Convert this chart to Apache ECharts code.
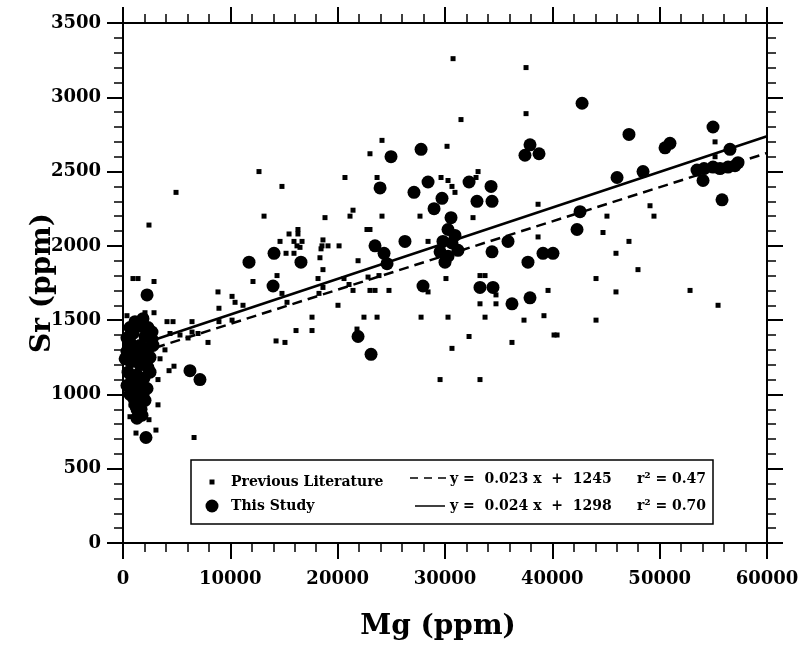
<!DOCTYPE html>
<html>
<head>
<meta charset="utf-8">
<script src="https://cdn.jsdelivr.net/npm/echarts@6.0.0/dist/echarts.min.js"></script>
<style>
html,body{margin:0;padding:0;background:#fff;}
#chart{width:800px;height:645px;}
</style>
</head>
<body>
<div id="chart"></div>
<script>
// ---- Data (Mg ppm, Sr ppm) ----
const prevLitMg = [30750,37550,37550,31490,24130,23010,30190,12670,14810,20680,23670,29630,30280,33080,32890,30650,30930,38670,21430,21150,24130,27670,32610,4940,2420,13140,18820,15470,16300,16300,14630,15930,16680,16210,16490,15190,15930,18630,18540,19100,20130,18450,18350,18630,930,1400,2890,14350,12110,8850,10160,10440,11180,14810,15280,18170,18630,18260,20590,20030,21060,8940,8940,6430,4100,4660,2890,370,2050,17610,16120,17610,14260,15090,7920,3910,6430,6990,4380,6060,10160,3450,470,560,750,650,1210,2420,3070,3260,3260,4290,4750,6620,5310,38670,44070,44070,39600,39220,37360,40160,40440,36240,33260,34750,33730,33260,33730,34750,32240,30650,29540,33260,30090,30280,27770,28420,24780,23670,22450,21800,21430,23010,23480,21900,22830,23850,22730,23010,28420,55160,55160,49100,49470,45090,44720,47140,45930,47980,45930,52830,55440,280];
const prevLitSr = [3260,3200,2890,2850,2710,2620,2670,2500,2400,2460,2460,2460,2440,2500,2460,2400,2360,2280,2240,2200,2200,2200,2190,2360,2140,2200,2190,2080,2110,2080,2030,2030,2030,2000,1990,1950,1950,2040,2000,2000,2000,1980,1920,1840,1780,1780,1760,1800,1760,1690,1660,1620,1600,1680,1620,1780,1720,1680,1780,1600,1740,1580,1490,1490,1490,1490,1550,1530,1550,1520,1430,1430,1360,1350,1350,1300,1420,1410,1410,1380,1500,1240,1100,1010,930,850,740,830,760,1100,930,1160,1190,710,1400,2060,1780,1500,1700,1530,1500,1400,1400,1350,1610,1610,1520,1800,1800,1670,1390,1310,1100,1100,1780,1520,1520,1690,1700,1520,1520,1440,1700,1700,1700,1900,1790,1800,2110,2110,2030,2700,2600,2270,2200,2200,2090,2030,1950,1840,1690,1700,1600,1330];

const studyMg = [2240,2140,6240,7170,13980,11740,14070,16580,21900,23110,24970,27770,23950,27110,28420,29720,28980,32240,34290,32980,34380,30560,26270,23480,24320,24600,30280,29810,30650,31210,29540,30280,34380,35870,37730,39130,40060,42580,42300,27950,33260,34470,36240,37920,37920,37450,38760,42770,47140,54970,50500,50960,46030,48450,55810,53480,54040,54130,54970,55620,56370,57020,57300,56550,30930,30000,1580,2330,930,2050,2700,650,1580,2330,370,1210,2050,750,1580,2330,470,1300,1960,840,1680,1210,1860,1020,1580,1300,1680,2520,560,1020,1120,2700,370,2800,1120,200,2520,370,2240,650,2050,1120,1770,1300,650,1860];
const studySr = [1670,710,1160,1100,1730,1890,1950,1890,1390,1270,2600,2650,2390,2360,2430,2320,2250,2430,2400,2300,2300,2190,2030,2000,1950,1880,2110,2030,2020,1970,1960,1930,1960,2030,1890,1950,1950,2230,2110,1730,1720,1720,1610,1650,2680,2610,2620,2960,2750,2800,2660,2690,2460,2500,2310,2510,2440,2520,2530,2520,2530,2540,2560,2650,2070,1890,1460,1450,1410,1390,1370,1350,1330,1310,1290,1270,1260,1220,1200,1180,1150,1130,1110,1080,1060,1020,1000,970,940,900,900,1250,1230,1040,1490,1420,1380,1330,1310,1240,1150,1060,1040,1000,960,930,860,840,1450,1510];

// regression fits (from legend)
const fitPrev = {slope: 0.023, intercept: 1245, r2: '0.47'};
const fitStudy = {slope: 0.024, intercept: 1298, r2: '0.70'};
const fitRange = [3000, 60000];

const xTicks = {min: 0, max: 60000, interval: 10000};
const yTicks = {min: 0, max: 3500, interval: 500};

// ---- Chart ----
const chart = echarts.init(document.getElementById('chart'), null, {renderer: 'canvas'});
const zip = (a, b) => a.map((v, i) => [v, b[i]]);
const fitLine = f => fitRange.map(x => [x, f.slope * x + f.intercept]);

const tickFont = {fontFamily: 'DejaVu Serif', fontWeight: 'bold', fontSize: 18, color: '#000', formatter: v => String(v)};
const titleFont = {fontFamily: 'DejaVu Serif', fontWeight: 'bold', fontSize: 28, color: '#000'};
const axisLine = {show: true, onZero: false, lineStyle: {color: '#000', width: 2}};
const axisTick = {show: true, inside: false, length: 16, lineStyle: {color: '#000', width: 2}};
const minorTick = {show: true, splitNumber: 5, length: 9, lineStyle: {color: '#000', width: 1.5}};

const legendFont = {fontFamily: 'DejaVu Serif', fontWeight: 'bold', fontSize: 14, fill: '#000', verticalAlign: 'middle', align: 'left'};

chart.setOption({
  animation: false,
  backgroundColor: '#fff',
  grid: {left: 123, right: 33, top: 23, bottom: 102, containLabel: false, outerBoundsMode: 'none'},
  xAxis: [
    {type: 'value', position: 'bottom', min: xTicks.min, max: xTicks.max, interval: xTicks.interval,
     axisLine, axisTick, minorTick, splitLine: {show: false},
     axisLabel: Object.assign({margin: 27}, tickFont),
     name: 'Mg (ppm)', nameLocation: 'middle', nameGap: 70, nameMoveOverlap: false,
     nameTextStyle: Object.assign({padding: [0, 14, 0, 0]}, titleFont)},
    {type: 'value', position: 'top', min: xTicks.min, max: xTicks.max, interval: xTicks.interval,
     axisLine, axisTick, minorTick, splitLine: {show: false}, axisLabel: {show: false}}
  ],
  yAxis: [
    {type: 'value', position: 'left', min: yTicks.min, max: yTicks.max, interval: yTicks.interval,
     axisLine, axisTick, minorTick, splitLine: {show: false},
     axisLabel: Object.assign({margin: 22}, tickFont),
     name: 'Sr (ppm)', nameLocation: 'middle', nameGap: 66, nameMoveOverlap: false, nameTextStyle: titleFont},
    {type: 'value', position: 'right', min: yTicks.min, max: yTicks.max, interval: yTicks.interval,
     axisLine, axisTick, minorTick, splitLine: {show: false}, axisLabel: {show: false}}
  ],
  series: [
    {name: 'Previous Literature', type: 'scatter', symbol: 'rect', symbolSize: 5,
     itemStyle: {color: '#000', opacity: 1}, data: zip(prevLitMg, prevLitSr), z: 2},
    {name: 'This Study', type: 'scatter', symbol: 'circle', symbolSize: 13,
     itemStyle: {color: '#000', opacity: 1}, data: zip(studyMg, studySr), z: 3},
    {name: 'fit prev', type: 'line', data: fitLine(fitPrev), symbol: 'none', silent: true,
     lineStyle: {color: '#000', width: 2.5, type: [10, 6]}, z: 4},
    {name: 'fit study', type: 'line', data: fitLine(fitStudy), symbol: 'none', silent: true,
     lineStyle: {color: '#000', width: 2.5, type: 'solid'}, z: 4}
  ],
  graphic: [
    {type: 'rect', z: 100, shape: {x: 191, y: 460, width: 522, height: 64},
     style: {fill: '#fff', stroke: '#000', lineWidth: 1.5}},
    {type: 'rect', z: 101, shape: {x: 209.5, y: 479.5, width: 5, height: 5}, style: {fill: '#000'}},
    {type: 'circle', z: 101, shape: {cx: 212, cy: 506, r: 6.5}, style: {fill: '#000'}},
    {type: 'text', z: 101, x: 231, y: 482, style: Object.assign({text: 'Previous Literature'}, legendFont)},
    {type: 'text', z: 101, x: 231, y: 506, style: Object.assign({text: 'This Study'}, legendFont)},
    {type: 'line', z: 101, shape: {x1: 410, y1: 478, x2: 447, y2: 478}, style: {stroke: '#000', lineWidth: 1.5, lineDash: [8, 6]}},
    {type: 'line', z: 101, shape: {x1: 415, y1: 506, x2: 445, y2: 506}, style: {stroke: '#000', lineWidth: 1.5}},
    {type: 'text', z: 101, x: 450, y: 479, style: Object.assign({text: 'y =  ' + fitPrev.slope.toFixed(3) + ' x  +  ' + fitPrev.intercept}, legendFont)},
    {type: 'text', z: 101, x: 450, y: 506, style: Object.assign({text: 'y =  ' + fitStudy.slope.toFixed(3) + ' x  +  ' + fitStudy.intercept}, legendFont)},
    {type: 'text', z: 101, x: 637, y: 479, style: Object.assign({text: 'r\u00B2 = ' + fitPrev.r2}, legendFont)},
    {type: 'text', z: 101, x: 637, y: 506, style: Object.assign({text: 'r\u00B2 = ' + fitStudy.r2}, legendFont)}
  ]
});
</script>
</body>
</html>
